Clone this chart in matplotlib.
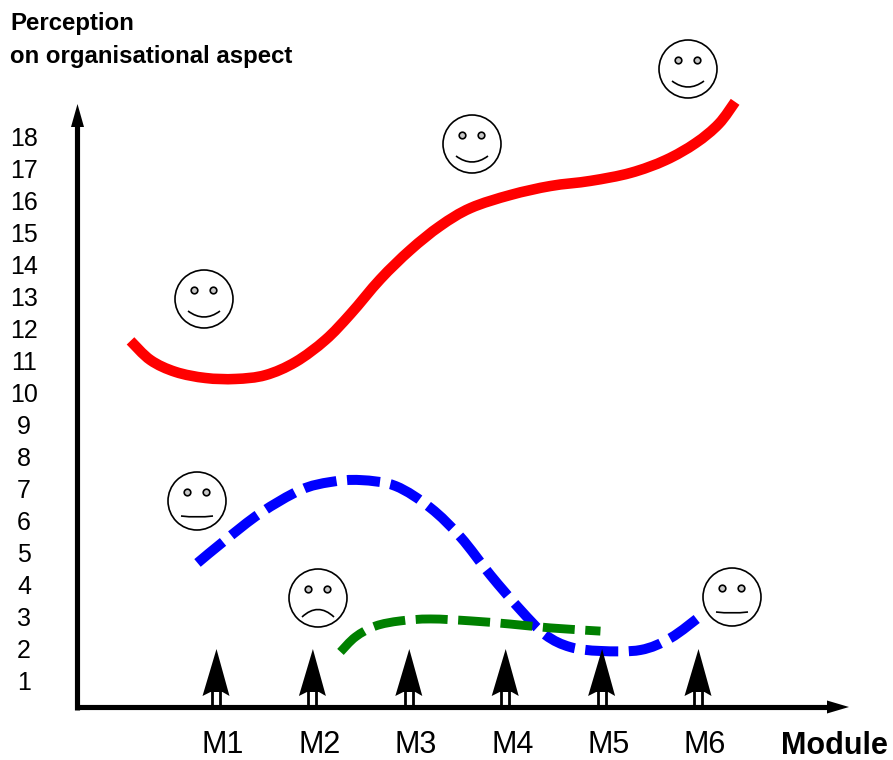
import matplotlib
matplotlib.use("Agg")
import matplotlib.pyplot as plt
from matplotlib.patches import Circle, Polygon, PathPatch
from matplotlib.path import Path
from matplotlib.transforms import ScaledTranslation

plt.rcParams['font.family'] = ['Liberation Sans', 'DejaVu Sans']
plt.rcParams['lines.scale_dashes'] = False

modules = [1, 2, 3, 4, 5, 6]
module_labels = ['M1', 'M2', 'M3', 'M4', 'M5', 'M6']
perception_ticks = list(range(1, 19))

red_x = [0.108, 0.315, 0.575, 0.886, 1.197, 1.508, 1.82, 2.13, 2.39, 2.70, 3.01,
         3.32, 3.635, 4.05, 4.465, 4.88, 5.295, 5.66, 5.97, 6.21, 6.38]
red_y = [11.66, 11.06, 10.69, 10.5, 10.47, 10.59, 11.0, 11.69, 12.5, 13.59, 14.5,
         15.25, 15.81, 16.22, 16.5, 16.66, 16.91, 17.31, 17.84, 18.44, 19.13]

blue_x = [0.803, 1.093, 1.456, 1.871, 2.183, 2.494, 2.857, 3.22, 3.531, 3.842,
          4.154, 4.413, 4.672, 4.983, 5.398, 5.71, 6.02]
blue_y = [4.72, 5.44, 6.28, 7.0, 7.25, 7.31, 7.125, 6.44, 5.53, 4.34,
          3.25, 2.47, 2.09, 1.97, 2.0, 2.375, 3.06]

green_x = [2.286, 2.442, 2.649, 2.909, 3.22, 3.635, 4.05, 4.465, 4.983]
green_y = [1.94, 2.41, 2.75, 2.91, 2.97, 2.91, 2.81, 2.69, 2.59]

W, H = 893, 760
PX_X, PX_Y = 96.4, 32.0
fig = plt.figure(figsize=(W / 100, H / 100), dpi=100)
ax = fig.add_axes([0, 0, 1, 1], facecolor='none')
ax.set_xlim(1 - 216.5 / PX_X, 1 + (W - 216.5) / PX_X)
ax.set_ylim((714 - H) / PX_Y, 714 / PX_Y)

# axis lines
axis_x = 1 + (77.5 - 216.5) / PX_X
axis_y = (714 - 707) / PX_Y
for s in ('top', 'right'):
    ax.spines[s].set_visible(False)
ax.spines['left'].set_position(('data', axis_x))
ax.spines['bottom'].set_position(('data', axis_y))
ax.spines['left'].set_bounds(axis_y - 2.5 / PX_Y, (714 - 125) / PX_Y)
ax.spines['bottom'].set_bounds(axis_x, 1 + (830 - 216.5) / PX_X)
for s in ('left', 'bottom'):
    ax.spines[s].set_linewidth(3.7)
    ax.spines[s].set_capstyle('butt')

ax.set_yticks(perception_ticks)
ax.set_yticklabels([str(v) for v in perception_ticks], ha='center', fontsize=18)
ax.tick_params(axis='y', length=0, pad=38.5)
ax.set_xticks(modules)
ax.set_xticklabels(module_labels, fontsize=22)
ax.tick_params(axis='x', length=0, pad=16.5)


def smooth_path(xs, ys):
    pts = list(zip(xs, ys))
    verts = [pts[0]]
    codes = [Path.MOVETO]
    for i in range(len(pts) - 1):
        p0 = pts[max(i - 1, 0)]
        p1 = pts[i]
        p2 = pts[i + 1]
        p3 = pts[min(i + 2, len(pts) - 1)]
        c1 = (p1[0] + (p2[0] - p0[0]) / 6, p1[1] + (p2[1] - p0[1]) / 6)
        c2 = (p2[0] - (p3[0] - p1[0]) / 6, p2[1] - (p3[1] - p1[1]) / 6)
        verts += [c1, c2, p2]
        codes += [Path.CURVE4] * 3
    return Path(verts, codes)


# curves
ax.add_patch(PathPatch(smooth_path(red_x, red_y), fc='none', ec='#ff0000', lw=7.6,
                       capstyle='butt', joinstyle='round'))
ax.add_patch(PathPatch(smooth_path(blue_x, blue_y), fc='none', ec='#0000ff', lw=7.2,
                       linestyle=(0, (23.8, 7.6)), capstyle='butt', joinstyle='round'))
ax.add_patch(PathPatch(smooth_path(green_x, green_y), fc='none', ec='#008000', lw=6.4,
                       linestyle=(0, (23.0, 7.6)), capstyle='butt', joinstyle='round'))

# overlay in pixel coordinates for the drawn decorations
ov = fig.add_axes([0, 0, 1, 1], facecolor='none')
ov.set_xlim(0, W)
ov.set_ylim(H, 0)
ov.axis('off')

ov.add_patch(Polygon([(77.5, 104), (71, 127), (84, 127)], closed=True, fc='k', ec='none'))
ov.add_patch(Polygon([(849, 707), (827, 700.5), (827, 713.5)], closed=True, fc='k', ec='none'))

for m in modules:
    x = 216.5 + (m - 1) * PX_X
    ov.plot([x - 4.5, x - 4.5], [690, 706], color='k', lw=2.0, solid_capstyle='butt')
    ov.plot([x + 3.5, x + 3.5], [690, 706], color='k', lw=2.0, solid_capstyle='butt')
    ov.add_patch(Polygon([(x, 649), (x - 14, 696), (x - 6, 692), (x + 6, 692), (x + 13, 696)],
                         closed=True, fc='k', ec='none', zorder=3))


def face(cx, cy, mood):
    ov.add_patch(Circle((cx, cy), 29, fc='white', ec='k', lw=1.2))
    for dx in (-9.5, 9.5):
        ov.add_patch(Circle((cx + dx, cy - 8.5), 3.3, fc='#c8c8c8', ec='k', lw=1.2))
    mouth_end, mouth_mid = {'happy': (12, 18), 'neutral': (15, 16), 'sad': (19, 11.5)}[mood]
    verts = [(cx - 16, cy + mouth_end), (cx, cy + mouth_mid * 2 - mouth_end), (cx + 16, cy + mouth_end)]
    ov.add_patch(PathPatch(Path(verts, [Path.MOVETO, Path.CURVE3, Path.CURVE3]), fc='none', ec='k', lw=1.2))


face(204, 299, 'happy')
face(472, 144, 'happy')
face(688, 69, 'happy')
face(197, 501, 'neutral')
face(318, 598, 'sad')
face(732, 597, 'neutral')

ov.text(10, 30, 'Perception', fontsize=17.3, fontweight='bold', va='baseline')
ov.text(10, 63, 'on organisational aspect', fontsize=17.3, fontweight='bold', va='baseline')
ov.text(781, 753.5, 'Module', fontsize=22, fontweight='bold', va='baseline')

fig.canvas.draw()
for lab in ax.get_xticklabels():
    lab.set_transform(lab.get_transform() + ScaledTranslation(6.5 / 100, 0, fig.dpi_scale_trans))
for lab in ax.get_yticklabels():
    lab.set_transform(lab.get_transform() + ScaledTranslation(0, 2 / 100, fig.dpi_scale_trans))

fig.savefig('out.png', dpi=100)
